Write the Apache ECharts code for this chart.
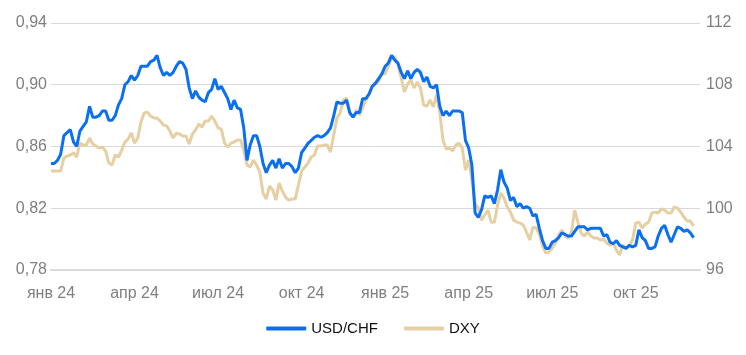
<!DOCTYPE html>
<html>
<head>
<meta charset="utf-8">
<style>
  html, body { margin: 0; padding: 0; background: #fff; }
  #chart { width: 746px; height: 355px; }
</style>
</head>
<body>
<div id="chart"></div>
<script src="https://cdn.jsdelivr.net/npm/echarts@6/dist/echarts.min.js"></script>
<script>
// twice-weekly points, jan 2024 .. dec 2025
const pointCount = 203;
const tickIndex = [0, 26, 52, 78, 104, 130, 156, 182];
const tickLabels = ['янв 24', 'апр 24', 'июл 24', 'окт 24', 'янв 25', 'апр 25', 'июл 25', 'окт 25'];

const usdchf = [
  0.849, 0.849, 0.851, 0.855, 0.867, 0.869, 0.871, 0.863, 0.860, 0.870,
  0.873, 0.876, 0.886, 0.879, 0.879, 0.880, 0.883, 0.883, 0.877, 0.877,
  0.880, 0.887, 0.891, 0.900, 0.902, 0.906, 0.903, 0.906, 0.912, 0.912,
  0.912, 0.915, 0.916, 0.919, 0.911, 0.906, 0.908, 0.906, 0.908, 0.912,
  0.915, 0.914, 0.910, 0.898, 0.891, 0.896, 0.892, 0.890, 0.889, 0.895,
  0.897, 0.904, 0.897, 0.899, 0.895, 0.891, 0.884, 0.890, 0.885, 0.884,
  0.872, 0.851, 0.861, 0.867, 0.867, 0.860, 0.849, 0.843, 0.848, 0.851,
  0.846, 0.852, 0.846, 0.849, 0.849, 0.847, 0.843, 0.846, 0.856, 0.859,
  0.862, 0.864, 0.866, 0.867, 0.866, 0.867, 0.869, 0.872, 0.880, 0.889,
  0.888, 0.888, 0.890, 0.882, 0.879, 0.882, 0.882, 0.891, 0.891, 0.894,
  0.899, 0.901, 0.904, 0.907, 0.912, 0.914, 0.919, 0.916, 0.914, 0.908,
  0.904, 0.909, 0.904, 0.908, 0.910, 0.908, 0.902, 0.905, 0.899, 0.898,
  0.900, 0.886, 0.880, 0.883, 0.880, 0.883, 0.883, 0.883, 0.882, 0.864,
  0.859, 0.848, 0.817, 0.814, 0.819, 0.828, 0.827, 0.828, 0.823, 0.832,
  0.845, 0.837, 0.833, 0.825, 0.827, 0.821, 0.823, 0.820, 0.821, 0.820,
  0.815, 0.816, 0.807, 0.799, 0.794, 0.794, 0.798, 0.799, 0.801, 0.804,
  0.803, 0.802, 0.802, 0.805, 0.808, 0.808, 0.808, 0.806, 0.807, 0.807,
  0.807, 0.807, 0.802, 0.803, 0.798, 0.797, 0.799, 0.796, 0.795, 0.794,
  0.796, 0.795, 0.796, 0.806, 0.801, 0.799, 0.794, 0.794, 0.795, 0.802,
  0.807, 0.809, 0.803, 0.798, 0.803, 0.808, 0.807, 0.805, 0.806, 0.804,
  0.801
];

const dxy = [
  102.41, 102.41, 102.41, 102.41, 103.25, 103.38, 103.45, 103.58, 103.32, 104.22,
  104.09, 104.09, 104.55, 104.16, 104.03, 103.90, 103.96, 103.71, 102.93, 102.80,
  103.45, 103.32, 103.77, 104.29, 104.48, 104.87, 104.22, 104.55, 105.58, 106.17,
  106.23, 105.97, 105.84, 105.84, 105.65, 105.39, 105.33, 105.00, 104.55, 104.87,
  104.81, 104.68, 104.68, 104.16, 104.81, 105.07, 105.46, 105.26, 105.65, 105.65,
  105.97, 105.65, 105.20, 105.13, 104.22, 103.96, 104.22, 104.29, 104.42, 104.42,
  103.77, 102.80, 102.67, 103.12, 102.80, 102.34, 100.98, 100.60, 101.44, 101.18,
  100.53, 101.63, 101.11, 100.72, 100.53, 100.60, 100.60, 101.50, 102.41, 102.67,
  102.93, 103.32, 103.45, 104.03, 104.03, 104.09, 104.09, 103.64, 104.74, 105.84,
  106.17, 107.01, 107.14, 106.10, 105.91, 106.36, 106.04, 106.49, 107.01, 107.40,
  107.92, 108.05, 108.24, 108.76, 108.70, 109.21, 109.73, 109.80, 109.28, 108.44,
  107.53, 108.05, 108.31, 107.79, 108.18, 107.79, 106.69, 106.62, 107.01, 106.56,
  107.33, 106.23, 104.42, 103.84, 103.90, 103.71, 104.09, 104.22, 103.90, 102.47,
  103.12, 101.83, 100.34, 100.01, 99.23, 99.56, 99.88, 99.10, 99.10, 100.21,
  100.98, 100.66, 100.08, 99.75, 99.23, 99.10, 99.04, 98.91, 98.46, 97.94,
  98.78, 98.72, 98.33, 97.55, 97.10, 97.16, 97.42, 97.74, 98.26, 98.59,
  98.20, 98.07, 98.46, 99.88, 99.10, 98.39, 98.20, 98.46, 98.20, 98.07,
  98.07, 97.94, 98.00, 97.74, 97.61, 97.74, 97.29, 96.97, 97.61, 97.42,
  97.61, 97.94, 99.04, 99.10, 98.72, 98.98, 99.10, 99.69, 99.75, 99.69,
  99.95, 99.88, 99.69, 99.69, 100.08, 100.01, 99.75, 99.43, 99.17, 99.17,
  98.85
];

const categories = [];
for (let i = 0; i < pointCount; i++) categories.push(i);

const labelFont = "'Liberation Sans', Arial, sans-serif";

const chart = echarts.init(document.getElementById('chart'));
const option = {
  animation: false,
  grid: { left: 51, right: 46, top: 23, bottom: 85 },
  legend: {
    bottom: 14,
    left: 'center',
    icon: 'roundRect',
    itemWidth: 40,
    itemHeight: 4,
    itemGap: 26,
    textStyle: { color: '#111', fontSize: 15, fontFamily: labelFont },
    data: ['USD/CHF', 'DXY']
  },
  xAxis: {
    type: 'category',
    data: categories,
    boundaryGap: false,
    axisLine: { lineStyle: { color: '#d9d9d9', width: 2 } },
    axisTick: { show: false },
    axisLabel: {
      color: '#7f7f7f',
      fontSize: 16,
      fontFamily: labelFont,
      margin: 16,
      interval: function (idx) { return tickIndex.indexOf(idx) >= 0; },
      formatter: function (v, idx) {
        const p = tickIndex.indexOf(idx);
        return p >= 0 ? tickLabels[p] : '';
      }
    }
  },
  yAxis: [
    {
      type: 'value',
      min: 0.78,
      max: 0.94,
      interval: 0.04,
      axisLine: { show: false },
      axisTick: { show: false },
      splitLine: { lineStyle: { color: '#d9d9d9' } },
      axisLabel: {
        color: '#7f7f7f',
        fontSize: 16,
        fontFamily: labelFont,
        margin: 4,
        formatter: function (v) { return v.toFixed(2).replace('.', ','); }
      }
    },
    {
      type: 'value',
      min: 96,
      max: 112,
      interval: 4,
      axisLine: { show: false },
      axisTick: { show: false },
      splitLine: { show: false },
      axisLabel: {
        color: '#7f7f7f',
        fontSize: 16,
        fontFamily: labelFont,
        margin: 6
      }
    }
  ],
  series: [
    {
      name: 'DXY',
      type: 'line',
      yAxisIndex: 1,
      data: dxy,
      symbol: 'none',
      z: 2,
      lineStyle: { color: '#e5cfa3', width: 3 },
      itemStyle: { color: '#e5cfa3' }
    },
    {
      name: 'USD/CHF',
      type: 'line',
      yAxisIndex: 0,
      data: usdchf,
      symbol: 'none',
      z: 3,
      lineStyle: { color: '#0a6ff0', width: 3 },
      itemStyle: { color: '#0a6ff0' }
    }
  ]
};
chart.setOption(option);
</script>
</body>
</html>
